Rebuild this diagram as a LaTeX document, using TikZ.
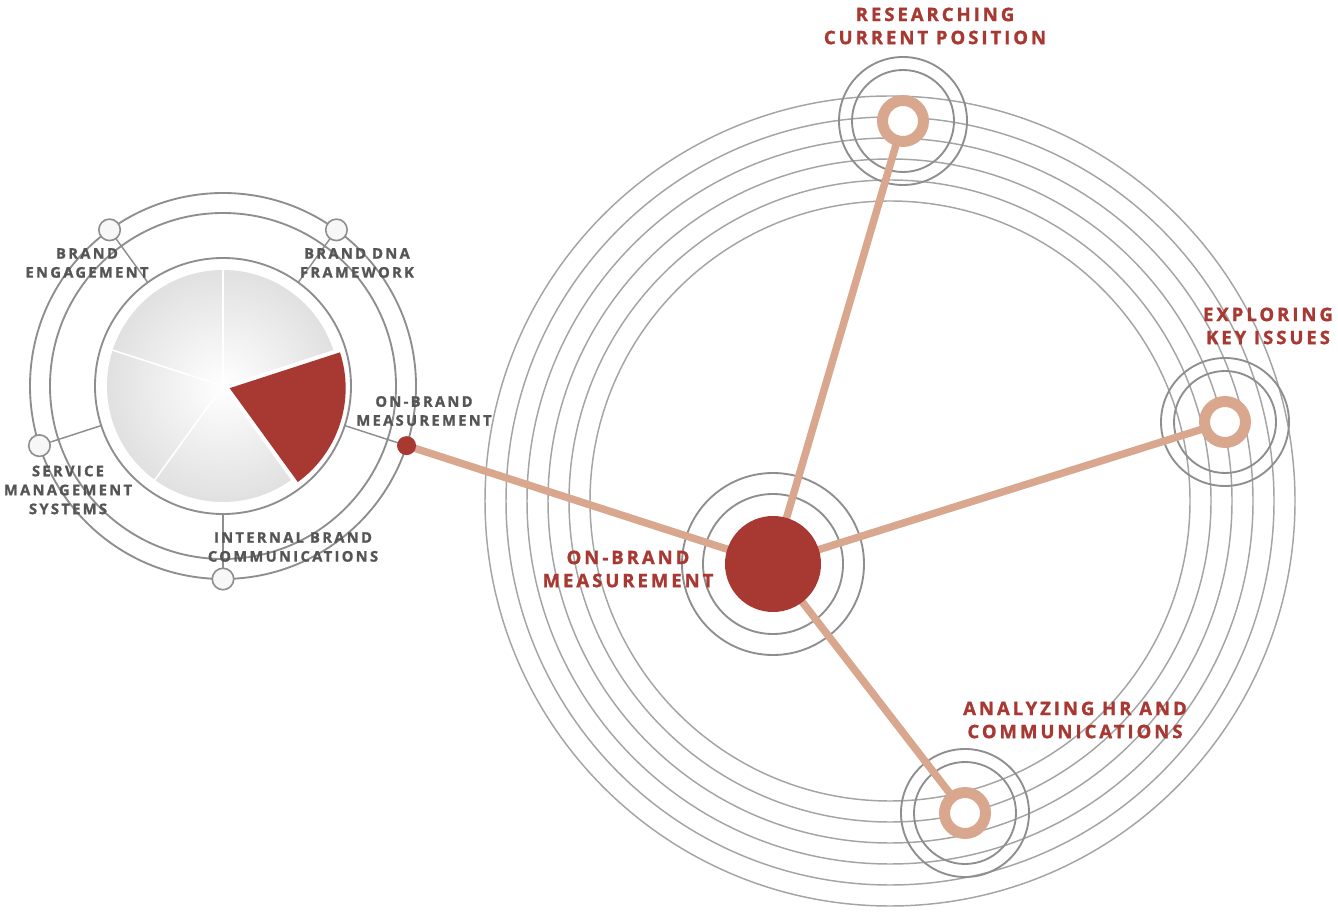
\documentclass[tikz,border=0pt]{standalone}
\usepackage{fontspec}
\setmainfont{Open Sans}
\newfontfamily\labfont[LetterSpace=16,BoldFeatures={FakeBold=1.3}]{Open Sans}
\usetikzlibrary{calc}
\definecolor{brandred}{HTML}{A83832}
\definecolor{spoke}{HTML}{D9A68E}
\definecolor{ringgrey}{HTML}{A4A4A4}
\definecolor{wheelgrey}{HTML}{8E8E8E}
\definecolor{labgrey}{HTML}{555555}
\tikzset{
  bigring/.style={draw=ringgrey, line width=1.1pt},
  wheelring/.style={draw=wheelgrey, line width=1.4pt},
  spokeline/.style={draw=spoke, line width=5.6pt},
  satring/.style={draw=spoke, line width=8.2pt, fill=white},
  redlab/.style={text=brandred, align=center, font=\labfont\bfseries\fontsize{13.9}{17.3}\selectfont},
  greylab/.style={text=labgrey, align=center, font=\labfont\bfseries\fontsize{11}{14.2}\selectfont},
  smallcirc/.style={draw=wheelgrey, line width=1.2pt, fill=white!97!black},
}
\begin{document}
\begin{tikzpicture}[x=0.75pt,y=0.75pt]
\useasboundingbox (0,0) rectangle (1338,911);
% ---------- coordinates ----------
\coordinate (C1) at (223,525);
\coordinate (BC) at (890,410);
\coordinate (M) at (773,347);
\coordinate (T) at (903,790);
\coordinate (R) at (1225,489);
\coordinate (B) at (965,98);
\coordinate (D) at ($(C1)+(342:193)$);
% ---------- big rings ----------
\foreach \r in {300,321,342,363,384,405}
  \draw[bigring] (BC) circle[radius=\r];
% satellite grey rings
\foreach \s in {T,R,B}{
  \draw[wheelring] (\s) circle[radius=51];
  \draw[wheelring] (\s) circle[radius=64];
}
% centre rings
\draw[wheelring] (M) circle[radius=70];
\draw[wheelring] (M) circle[radius=91];
% ---------- left wheel ----------
\draw[wheelring] (C1) circle[radius=193];
\draw[wheelring] (C1) circle[radius=173];
\draw[wheelring] (C1) circle[radius=128];
\foreach \a in {54,126,198,270,342}
  \draw[draw=wheelgrey, line width=1.1pt] ($(C1)+(\a:128)$) -- ($(C1)+(\a:190)$);
\shade[inner color=white, outer color=black!12] (C1) circle[radius=116];
\fill[white] (C1) -- ++(-54:118) arc[start angle=-54, end angle=18, radius=118] -- cycle;
\foreach \a in {90,162,234}
  \draw[white, line width=1.2pt] (C1) -- ++(\a:117);
\coordinate (A) at ($(C1)+(-18:7)$);
\fill[brandred] (A) -- ++(-54:116) arc[start angle=-54, end angle=18, radius=116] -- cycle;
\foreach \a/\n in {54/c1,126/c2,198/c3,270/c4}
  \node[smallcirc, circle, minimum size=21.5*0.75pt, inner sep=0pt] (\n) at ($(C1)+(\a:193)$) {};
% ---------- spokes ----------
\draw[spokeline] (D) -- (M);
\draw[spokeline] (M) -- (T);
\draw[spokeline] (M) -- (R);
\draw[spokeline] (M) -- (B);
\node[circle, fill=brandred, minimum size=19*0.75pt, inner sep=0pt] (dot) at (D) {};
\node[circle, fill=brandred, minimum size=96*0.75pt, inner sep=0pt] (centre) at (M) {};
\foreach \s in {T,R,B}
  \draw[satring] (\s) circle[radius=20.5];
% ---------- labels ----------
\node[redlab] (lt) at (935,885) {RESEARCHING\\CURRENT POSITION};
\node[redlab] (lr) at (1268,585) {EXPLORING\\KEY ISSUES};
\node[redlab] (lb) at (1075,191) {ANALYZING HR AND\\COMMUNICATIONS};
\node[redlab] (lm) at (628,342) {ON-BRAND\\MEASUREMENT};
\node[greylab] (g1) at (87,648) {BRAND\\ENGAGEMENT};
\node[greylab] (g2) at (357,648) {BRAND DNA\\FRAMEWORK};
\node[greylab] (g3) at (424,500) {ON-BRAND\\MEASUREMENT};
\node[greylab] (g4) at (68,421) {SERVICE\\MANAGEMENT\\SYSTEMS};
\node[greylab] (g5) at (293,364) {INTERNAL BRAND\\COMMUNICATIONS};
\end{tikzpicture}
\end{document}
